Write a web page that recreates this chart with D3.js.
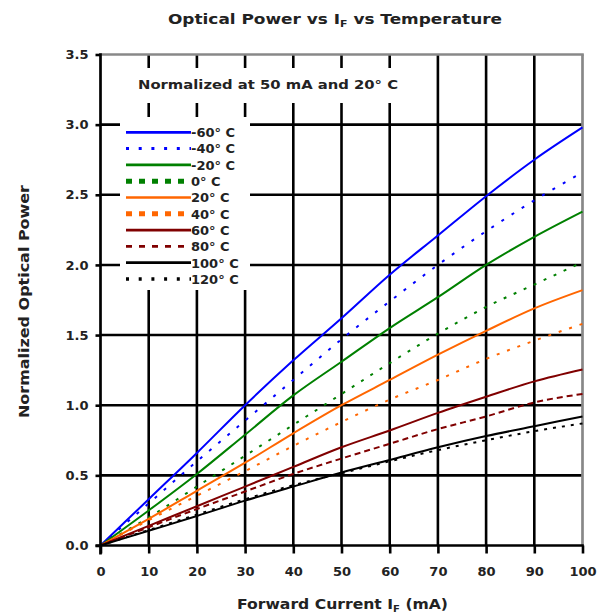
<!DOCTYPE html>
<html><head><meta charset="utf-8">
<script src="https://cdn.jsdelivr.net/npm/d3@7"></script>
<style>
html,body{margin:0;padding:0;background:#fff;}
svg{display:block;}
text{font-family:"DejaVu Sans",Verdana,sans-serif;font-weight:bold;fill:#222;}
</style></head>
<body><svg id="c" width="610" height="614"></svg>
<script>
// ---- data ----
const current = [0,10,20,30,40,50,60,70,80,90,100];
const temperatures = ["-60° C","-40° C","-20° C","0° C","20° C","40° C","60° C","80° C","100° C","120° C"];
const pM60 = [0,0.33,0.66,1.00,1.32,1.62,1.93,2.21,2.49,2.75,2.98];
const pM40 = [0,0.30,0.60,0.89,1.18,1.47,1.74,2.00,2.24,2.46,2.66];
const pM20 = [0,0.25,0.51,0.79,1.07,1.31,1.55,1.77,2.00,2.20,2.38];
const p0   = [0,0.20,0.42,0.64,0.86,1.08,1.30,1.51,1.70,1.86,2.02];
const p20  = [0,0.19,0.39,0.59,0.80,1.00,1.18,1.36,1.53,1.69,1.82];
const p40  = [0,0.18,0.355,0.53,0.71,0.88,1.04,1.18,1.33,1.46,1.58];
const p60  = [0,0.14,0.28,0.42,0.56,0.70,0.82,0.945,1.06,1.17,1.255];
const p80  = [0,0.13,0.26,0.385,0.51,0.62,0.725,0.83,0.92,1.02,1.08];
const p100 = [0,0.105,0.21,0.32,0.42,0.52,0.61,0.70,0.78,0.85,0.92];
const p120 = [0,0.11,0.22,0.33,0.43,0.515,0.60,0.68,0.75,0.815,0.87];
const seriesValues = [pM60,pM40,pM20,p0,p20,p40,p60,p80,p100,p120];
const xTicks = [0,10,20,30,40,50,60,70,80,90,100];
const yTicks = [0,0.5,1.0,1.5,2.0,2.5,3.0,3.5];

// ---- styles ----
const colors = ["#0000ff","#0000ff","#008000","#008000","#ff6600","#ff6600","#800000","#800000","#000000","#000000"];
const plotDash = [null,"3,9",null,"3,8",null,"3,8",null,"6,4",null,"3,6"];
const legDash = [null,"3,9.7",null,"6,7",null,"6,7",null,"6,7",null,"3,9.7"];
const legWidth = [2.7,3,2.7,5,2.7,5,2.7,2.7,2.7,3.5];

const svg = d3.select("#c");
const x = d3.scaleLinear().domain([0,100]).range([100.5,582.5]);
const y = d3.scaleLinear().domain([0,3.5]).range([545.5,54.5]);

// grid
const grid = svg.append("g");
grid.selectAll("line.v").data(xTicks.slice(1,-1)).enter().append("line")
  .attr("x1",d=>x(d)).attr("x2",d=>x(d)).attr("y1",y(0)).attr("y2",y(3.5))
  .attr("stroke","#000").attr("stroke-width",2.6);
grid.selectAll("line.h").data(yTicks.slice(1,-1)).enter().append("line")
  .attr("x1",x(0)).attr("x2",x(100)).attr("y1",d=>y(d)).attr("y2",d=>y(d))
  .attr("stroke","#000").attr("stroke-width",2.6);
// top / right frame (grey)
svg.append("line").attr("x1",x(0)).attr("x2",x(100)+1.3).attr("y1",y(3.5)).attr("y2",y(3.5)).attr("stroke","#888").attr("stroke-width",2.7);
svg.append("line").attr("x1",x(100)).attr("x2",x(100)).attr("y1",y(3.5)).attr("y2",y(0)).attr("stroke","#888").attr("stroke-width",2.7);

// white boxes for annotation and legend
svg.append("rect").attr("x",116).attr("y",68).attr("width",296).attr("height",35).attr("fill","#fff");
svg.append("rect").attr("x",120).attr("y",117).attr("width",130).attr("height",173).attr("fill","#fff");

// curves
const line = d3.line().x((d,i)=>x(current[i])).y(d=>y(d)).curve(d3.curveMonotoneX);
svg.append("g").selectAll("path").data(seriesValues).enter().append("path")
  .attr("d",d=>line(d)).attr("fill","none")
  .attr("stroke",(d,i)=>colors[i]).attr("stroke-width",2)
  .attr("stroke-dasharray",(d,i)=>plotDash[i]);

// axes
const xAxis = svg.append("g").attr("transform",`translate(0,${y(0)})`)
  .call(d3.axisBottom(x).tickValues(xTicks).tickSize(8).tickPadding(13).tickFormat(d3.format("d")));
const yAxis = svg.append("g").attr("transform",`translate(${x(0)},0)`)
  .call(d3.axisLeft(y).tickValues(yTicks).tickSize(5).tickPadding(7).tickFormat(d3.format(".1f")));
[xAxis,yAxis].forEach(a=>{
  a.select(".domain").attr("stroke","#000").attr("stroke-width",2.7);
  a.selectAll(".tick line").attr("stroke","#000").attr("stroke-width",2.6);
  a.selectAll(".tick text").attr("font-size",13).attr("font-family","DejaVu Sans").attr("font-weight","bold").attr("fill","#222");
});
xAxis.select(".domain").attr("d",`M${x(0)-5},0H${x(100)+1.3}`);
yAxis.select(".domain").attr("d",`M0,${y(3.5)-1.3}V${y(0)+9}`);

// legend
const leg = svg.append("g");
const rowY = i => 132.3 + i*16.3;
temperatures.forEach((t,i)=>{
  leg.append("line").attr("x1",126).attr("x2",191).attr("y1",rowY(i)).attr("y2",rowY(i))
    .attr("stroke",colors[i]).attr("stroke-width",legWidth[i]).attr("stroke-dasharray",legDash[i]);
  leg.append("text").attr("x",191).attr("y",rowY(i)+4.8).attr("font-size",13).text(t);
});

// annotation
svg.append("text").attr("x",138).attr("y",89).attr("font-size",13)
  .attr("textLength",260).attr("lengthAdjust","spacingAndGlyphs").text("Normalized at 50 mA and 20° C");

// title
const title = svg.append("text").attr("x",168).attr("y",24).attr("font-size",14)
  .attr("textLength",334).attr("lengthAdjust","spacingAndGlyphs");
title.append("tspan").text("Optical Power vs I");
title.append("tspan").attr("font-size",9).attr("dy",3).text("F");
title.append("tspan").attr("dy",-3).text(" vs Temperature");

// x title
const xt = svg.append("text").attr("x",237).attr("y",609).attr("font-size",14)
  .attr("textLength",211).attr("lengthAdjust","spacingAndGlyphs");
xt.append("tspan").text("Forward Current I");
xt.append("tspan").attr("font-size",9).attr("dy",3).text("F");
xt.append("tspan").attr("dy",-3).text(" (mA)");

// y title
svg.append("text").attr("transform","translate(29,418) rotate(-90)").attr("font-size",14)
  .attr("textLength",233).attr("lengthAdjust","spacingAndGlyphs").text("Normalized Optical Power");
</script></body></html>
